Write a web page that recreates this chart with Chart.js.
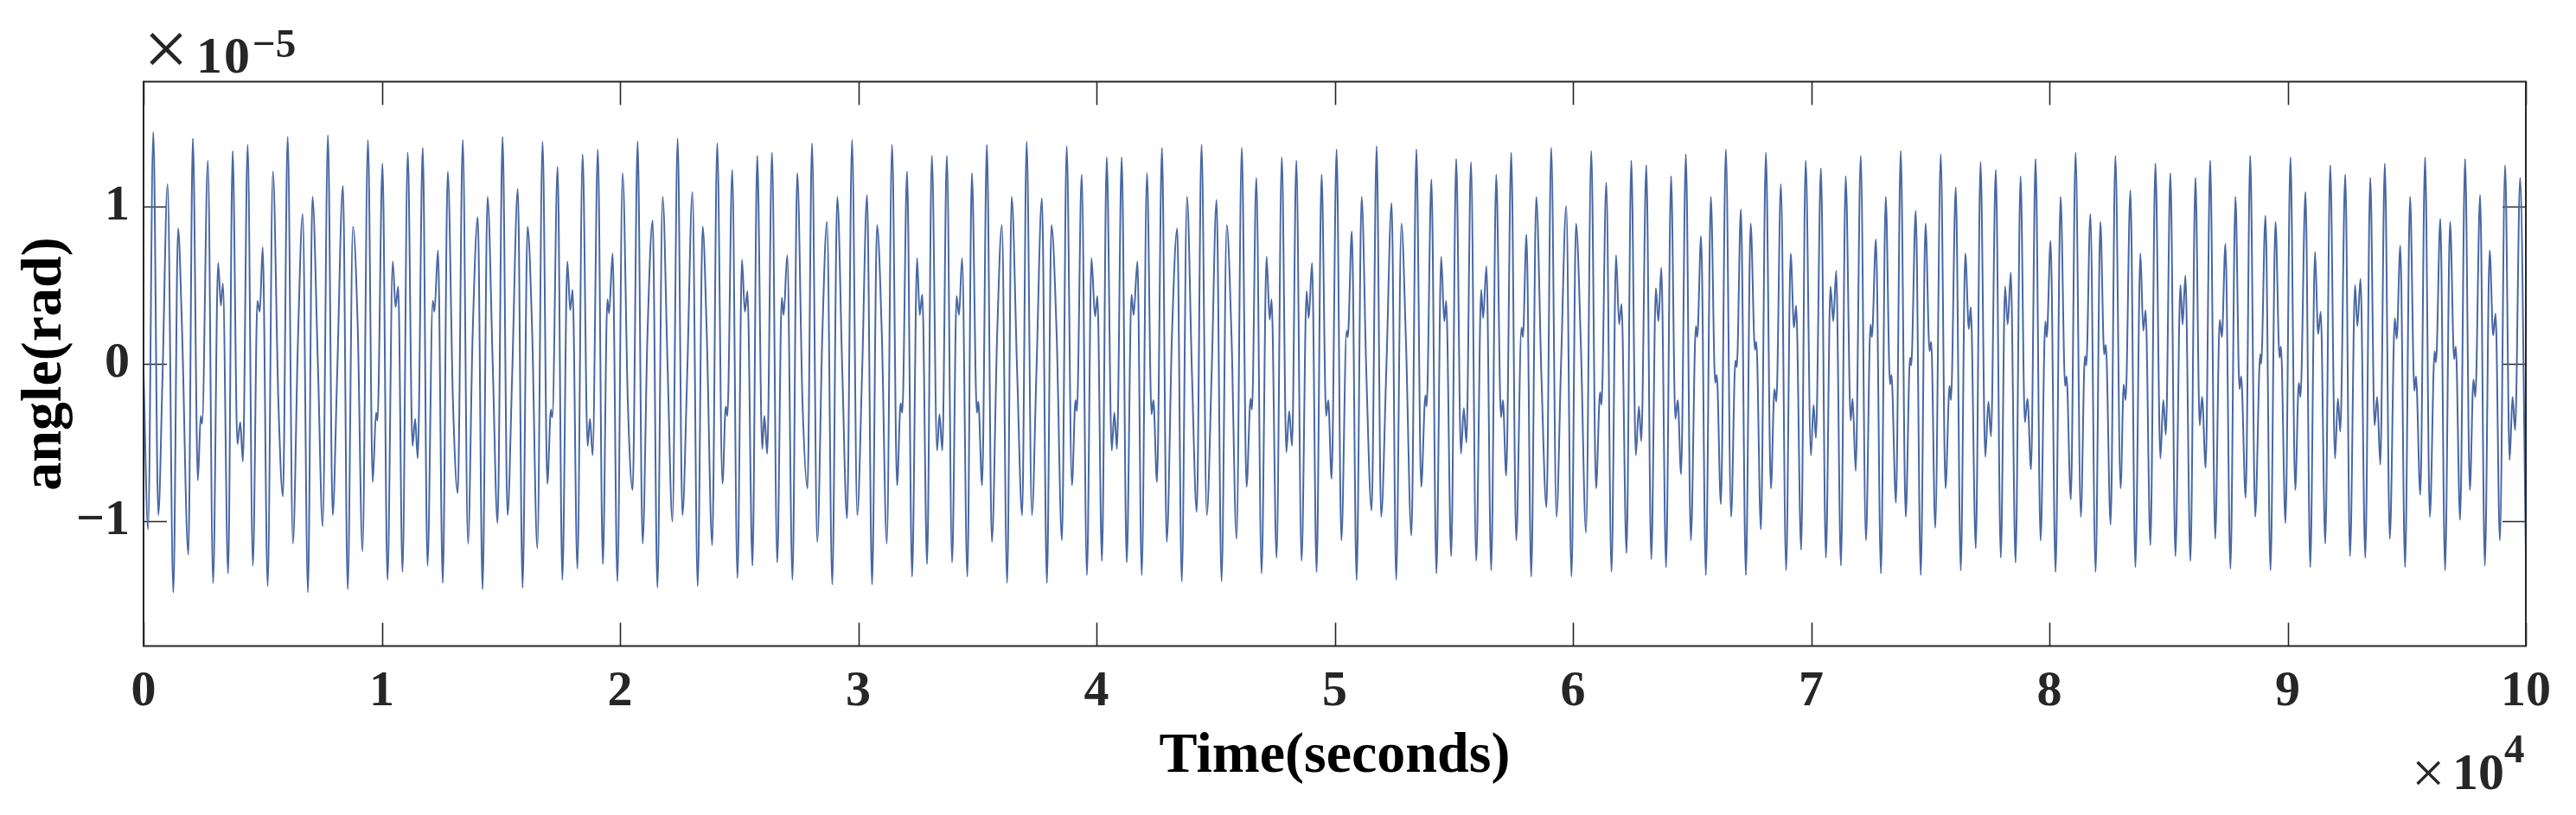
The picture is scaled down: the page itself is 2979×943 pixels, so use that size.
<!DOCTYPE html>
<html lang="en">
<head>
  <meta charset="UTF-8">
  <title>angle(rad) vs Time(seconds)</title>
  <style>
    * { box-sizing: border-box; margin: 0; padding: 0; }
    body {
      width: 2979px; height: 943px; overflow: hidden; background: #fff;
      position: relative; font-family: "Liberation Serif", "Times New Roman", serif;
    }
    #wrap { position: absolute; left: 0; top: 0; width: 2979px; height: 943px; }
    .mult { position: absolute; line-height: 1; white-space: nowrap; color: #262626; }
    .b { font-weight: bold; }
  </style>
</head>
<body>
  <div id="wrap"><canvas id="chart" width="2979" height="943"></canvas></div>

  <!-- axis multipliers -->
  <span class="mult" style="left:166px; top:10px; font-size:92px;">×</span>
  <span class="mult b" style="left:227px; top:34px; font-size:60px; letter-spacing:2px;">10</span>
  <span class="mult b" style="left:292px; top:27px; font-size:47px;">−5</span>

  <span class="mult" style="left:2789px; top:860px; font-size:68px;">×</span>
  <span class="mult b" style="left:2836px; top:863px; font-size:60px;">10</span>
  <span class="mult b" style="left:2896px; top:843px; font-size:47px;">4</span>

  <script src="https://cdn.jsdelivr.net/npm/chart.js"></script>
  <script>
    // time in units of 1e4 s, angle in units of 1e-5 rad
    const timeE4 = [
      0, 0.019, 0.041, 0.062, 0.079, 0.101, 0.125, 0.145, 0.161, 0.188, 0.207, 0.228, 0.240, 0.246, 0.270,
      0.292, 0.313, 0.325, 0.333, 0.355, 0.374, 0.394, 0.406, 0.417, 0.437, 0.459, 0.478, 0.488, 0.500, 0.521,
      0.543, 0.566, 0.585, 0.605, 0.627, 0.648, 0.668, 0.690, 0.709, 0.732, 0.752, 0.774, 0.794, 0.812, 0.837,
      0.857, 0.879, 0.899, 0.919, 0.942, 0.962, 0.976, 0.982, 1.003, 1.024, 1.046, 1.058, 1.069, 1.087, 1.109,
      1.129, 1.140, 1.151, 1.172, 1.192, 1.214, 1.221, 1.236, 1.256, 1.277, 1.299, 1.319, 1.340, 1.362, 1.381,
      1.403, 1.423, 1.444, 1.466, 1.486, 1.507, 1.528, 1.547, 1.571, 1.591, 1.612, 1.631,
      1.653, 1.675, 1.695, 1.710, 1.716, 1.738, 1.758, 1.779, 1.791, 1.801, 1.821, 1.843, 1.864, 1.874, 1.885,
      1.907, 1.928, 1.947, 1.954, 1.969, 1.989, 2.011, 2.033, 2.053, 2.074, 2.095, 2.115, 2.137, 2.157, 2.179,
      2.200, 2.220, 2.242, 2.262, 2.282, 2.304, 2.326, 2.347, 2.364, 2.387, 2.408, 2.430, 2.444, 2.451, 2.471,
      2.493, 2.512, 2.524, 2.535, 2.556, 2.576, 2.597, 2.606, 2.618, 2.638, 2.660, 2.679, 2.687, 2.702, 2.724,
      2.744, 2.766, 2.787, 2.806, 2.828, 2.849, 2.869, 2.891, 2.912, 2.933, 2.953, 2.974, 2.996, 3.016, 3.037,
      3.058, 3.079, 3.099, 3.120, 3.142, 3.163, 3.178, 3.185, 3.205, 3.226, 3.247, 3.258, 3.269, 3.289,
      3.309, 3.331, 3.341, 3.353, 3.372, 3.394, 3.413, 3.423, 3.436, 3.458, 3.477, 3.498, 3.504, 3.520, 3.540,
      3.561, 3.583, 3.603, 3.625, 3.644, 3.667, 3.688, 3.707, 3.729, 3.748, 3.771, 3.792, 3.811, 3.833, 3.855,
      3.875, 3.897, 3.912, 3.918, 3.938, 3.960, 3.979, 3.994, 4.004, 4.023, 4.043, 4.064, 4.075, 4.086, 4.106,
      4.127, 4.147, 4.156, 4.172, 4.190, 4.212, 4.231, 4.239, 4.254, 4.275, 4.295, 4.317, 4.339, 4.358, 4.380,
      4.401, 4.421, 4.441, 4.463, 4.484, 4.504, 4.525, 4.547, 4.567, 4.588, 4.610, 4.630, 4.647, 4.653, 4.671,
      4.693, 4.714, 4.727, 4.735, 4.756, 4.778, 4.797, 4.809, 4.821, 4.839, 4.861, 4.882, 4.891, 4.905, 4.924,
      4.945,
      4.964, 4.973, 4.987, 5.008, 5.028, 5.050, 5.055, 5.072, 5.092, 5.113, 5.133, 5.155, 5.176, 5.195, 5.217,
      5.239, 5.258, 5.280, 5.299, 5.322, 5.343, 5.363, 5.381, 5.386, 5.406, 5.427, 5.447, 5.460, 5.468, 5.489,
      5.510, 5.530, 5.542, 5.553, 5.572, 5.594, 5.615, 5.623, 5.637, 5.657, 5.678, 5.698, 5.706, 5.720, 5.741,
      5.762, 5.784, 5.790, 5.805, 5.825, 5.846, 5.868, 5.889, 5.909, 5.931, 5.950, 5.972, 5.994, 6.013, 6.033,
      6.055, 6.077, 6.097, 6.114, 6.120, 6.140, 6.162, 6.181, 6.194, 6.204, 6.225, 6.245, 6.264, 6.277, 6.287,
      6.308, 6.329, 6.348, 6.359, 6.371, 6.391, 6.412, 6.430, 6.440, 6.454, 6.474, 6.495, 6.516, 6.522, 6.538,
      6.558, 6.579,
      6.597, 6.604, 6.621, 6.642, 6.664, 6.682, 6.688, 6.705, 6.726, 6.746, 6.764, 6.770, 6.789, 6.810, 6.831,
      6.846, 6.854, 6.873, 6.895, 6.914, 6.928, 6.937, 6.958, 6.977, 6.999, 7.010, 7.020, 7.041, 7.062, 7.081,
      7.093, 7.105, 7.125, 7.145, 7.166, 7.174, 7.187, 7.208, 7.230, 7.249, 7.255, 7.272, 7.293, 7.313, 7.331,
      7.337, 7.356, 7.376, 7.397, 7.415, 7.420, 7.439, 7.460, 7.480, 7.497, 7.504, 7.521, 7.544, 7.564, 7.581,
      7.587, 7.607, 7.628, 7.647, 7.662, 7.670, 7.691, 7.711, 7.731, 7.744, 7.755, 7.775, 7.796, 7.814, 7.825,
      7.838, 7.858, 7.879, 7.897, 7.908, 7.923, 7.942, 7.963, 7.983, 7.989, 8.005, 8.026, 8.047, 8.066, 8.072,
      8.090, 8.110, 8.132, 8.149, 8.155, 8.172, 8.194, 8.214, 8.230, 8.237,
      8.257, 8.277, 8.299, 8.312, 8.320, 8.340, 8.361, 8.382, 8.394, 8.404, 8.424, 8.445, 8.466, 8.478, 8.489,
      8.508, 8.529, 8.550, 8.559, 8.571, 8.592, 8.613, 8.631, 8.641, 8.656, 8.675, 8.696, 8.715, 8.724, 8.739,
      8.760, 8.781, 8.798, 8.805, 8.824, 8.843, 8.864, 8.885, 8.889, 8.907, 8.928, 8.949, 8.966, 8.972, 8.991,
      9.012, 9.032, 9.047, 9.054, 9.075, 9.095, 9.115, 9.128, 9.139, 9.158, 9.179, 9.199, 9.211, 9.221, 9.242,
      9.262, 9.283, 9.293, 9.306, 9.326, 9.347, 9.365, 9.376, 9.389, 9.408, 9.429, 9.450, 9.458, 9.473, 9.493,
      9.514, 9.532, 9.539, 9.557, 9.577, 9.597, 9.617, 9.623, 9.641, 9.661, 9.682, 9.699, 9.706, 9.724, 9.745,
      9.765, 9.780, 9.788, 9.808, 9.828, 9.848, 9.863, 9.873, 9.891, 9.913, 9.932, 9.944, 9.955, 9.976, 10.0
    ];
    const angleE5 = [
      -0.05, -1.05, 1.47, -0.96, -0.12, 1.14, -1.45, 0.86, 0.25, -1.21, 1.43, -0.74, -0.33, -0.38, 1.29,
      -1.39, 0.64, 0.37, 0.51, -1.33, 1.35, -0.51, -0.37, -0.62, 1.39, -1.28, 0.40, 0.33, 0.74, -1.41,
      1.22, -0.24, -0.84, 1.44, -1.14, 0.14, 0.95, -1.45, 1.06, -0.01, -1.03, 1.45, -0.96, -0.11, 1.13,
      -1.43, 0.87, 0.24, -1.19, 1.42, -0.75, -0.31, -0.36, 1.27, -1.37, 0.65, 0.36, 0.49, -1.32, 1.34,
      -0.52, -0.35, -0.60, 1.37, -1.28, 0.40, 0.33, 0.72, -1.39, 1.22, -0.25, -0.82, 1.42, -1.14, 0.16,
      0.93, -1.43, 1.06, -0.02, -1.01, 1.44, -0.96, -0.09, 1.11, -1.42, 0.87, 0.22,
      -1.17, 1.41, -0.76, -0.29, -0.34, 1.25, -1.37, 0.65, 0.34, 0.47, -1.30, 1.33, -0.52, -0.35, -0.58,
      1.36, -1.27, 0.41, 0.32, 0.70, -1.38, 1.21, -0.25, -0.80, 1.41, -1.14, 0.17, 0.91, -1.42, 1.06,
      -0.03, -1.00, 1.43, -0.96, -0.07, 1.09, -1.41, 0.87, 0.20, -1.15, 1.40, -0.76, -0.27, -0.33, 1.23,
      -1.36, 0.66, 0.33, 0.46, -1.28, 1.32, -0.54, -0.33, -0.57, 1.34, -1.26, 0.42, 0.31, 0.69, -1.37,
      1.21, -0.24, -0.79, 1.40, -1.13, 0.17, 0.90, -1.40, 1.06, -0.04, -0.98, 1.42, -0.96, -0.07, 1.07,
      -1.40, 0.88, 0.19, -1.14, 1.39, -0.77, -0.25, -0.31, 1.22, -1.35, 0.67, 0.31, 0.44, -1.27,
      1.32, -0.55, -0.32, -0.55, 1.32, -1.26, 0.43, 0.31, 0.67, -1.35, 1.21, -0.31, -0.24, -0.77, 1.39,
      -1.13, 0.18, 0.88, -1.39, 1.06, -0.05, -0.96, 1.41, -0.96, -0.05, 1.05, -1.39, 0.88, 0.18, -1.12,
      1.38, -0.77, -0.23, -0.30, 1.20, -1.34, 0.67, 0.30, 0.43, -1.25, 1.31, -0.55, -0.31, -0.54, 1.31,
      -1.26, 0.44, 0.31, 0.65, -1.34, 1.21, -0.32, -0.23, -0.75, 1.37, -1.13, 0.19, 0.86, -1.38, 1.06,
      -0.07, -0.94, 1.39, -0.96, -0.03, 1.04, -1.38, 0.88, 0.17, -1.11, 1.37, -0.78, -0.22, -0.29, 1.18,
      -1.33, 0.68, 0.28, 0.41, -1.23, 1.31, -0.56, -0.30, -0.52, 1.29, -1.25, 0.46, 0.29, 0.64, -1.32,
      1.20,
      -0.33, -0.23, -0.73, 1.36, -1.12, 0.21, 0.17, 0.84, -1.37, 1.06, -0.07, -0.93, 1.38, -0.97, -0.02,
      1.02, -1.37, 0.89, 0.15, -1.09, 1.36, -0.78, -0.20, -0.27, 1.17, -1.33, 0.68, 0.27, 0.40, -1.22,
      1.30, -0.57, -0.28, -0.50, 1.28, -1.25, 0.47, 0.29, 0.62, -1.31, 1.20, -0.34, -0.23, -0.71, 1.34,
      -1.12, 0.23, 0.17, 0.82, -1.35, 1.06, -0.09, -0.91, 1.37, -0.97, -0.01, 1.00, -1.35, 0.89, 0.14,
      -1.07, 1.35, -0.79, -0.18, -0.26, 1.15, -1.32, 0.69, 0.25, 0.38, -1.20, 1.29, -0.58, -0.27, -0.49,
      1.26, -1.24, 0.48, 0.27, 0.61, -1.29, 1.19, -0.35, -0.23, -0.70, 1.33, -1.12, 0.24, 0.17, 0.81,
      -1.34, 1.06,
      -0.12, -0.07, -0.89, 1.36, -0.97, 0.02, -0.02, 0.98, -1.34, 0.89, 0.09, 0.14, -1.05, 1.34, -0.79,
      -0.16, -0.24, 1.14, -1.31, 0.70, 0.23, 0.37, -1.18, 1.29, -0.58, -0.26, -0.47, 1.24, -1.23, 0.49,
      0.27, 0.59, -1.28, 1.19, -0.36, -0.22, -0.68, 1.32, -1.12, 0.25, 0.17, 0.79, -1.33, 1.06, -0.13,
      -0.07, -0.88, 1.35, -0.97, 0.04, -0.01, 0.97, -1.34, 0.89, 0.08, 0.14, -1.04, 1.33, -0.79, -0.14,
      -0.23, 1.12, -1.31, 0.70, 0.22, 0.36, -1.17, 1.28, -0.59, -0.24, -0.46, 1.23, -1.23, 0.49, 0.25,
      0.58, -1.26, 1.19, -0.37, -0.22, -0.67, 1.30, -1.12, 0.27, 0.17, 0.78, -1.32, 1.06, -0.14, -0.08,
      -0.86, 1.34, -0.97, 0.05, -0.01, 0.95, -1.32, 0.90, 0.06, 0.12,
      -1.02, 1.32, -0.79, -0.13, -0.23, 1.10, -1.29, 0.70, 0.21, 0.34, -1.15, 1.27, -0.60, -0.23, -0.45,
      1.21, -1.22, 0.50, 0.25, 0.56, -1.25, 1.18, -0.39, -0.21, -0.66, 1.29, -1.11, 0.28, 0.17, 0.76,
      -1.30, 1.06, -0.16, -0.08, -0.85, 1.32, -0.97, 0.06, 0.00, 0.94, -1.31, 0.90, 0.04, 0.11, -1.01,
      1.31, -0.80, -0.12, -0.21, 1.09, -1.29, 0.71, 0.19, 0.33, -1.14, 1.26, -0.60, -0.22, -0.43, 1.20,
      -1.22, 0.50, 0.24, 0.54, -1.23, 1.18, -0.39, -0.21, -0.64, 1.27, -1.11, 0.29, 0.16, 0.75, -1.29,
      1.06, -0.17, -0.08, -0.83, 1.31, -0.97, 0.08, 0.01, 0.92, -1.31, 0.90, 0.03, 0.11, -0.99, 1.30,
      -0.80, -0.10, -0.21, 1.07, -1.28, 0.72, 0.18, 0.32, -1.12, 1.26, -0.61, -0.21, -0.42, 1.18, -1.20
    ];
    const xTicks = [0, 1, 2, 3, 4, 5, 6, 7, 8, 9, 10];
    const yTicks = [-1, 0, 1];
    const yRange = [-1.79, 1.79];

    if (timeE4.length !== angleE5.length) console.warn('length mismatch', timeE4.length, angleE5.length);

    const lineColor = '#4867a3';
    const axisColor = '#262626';
    const serif = '"Liberation Serif", "Times New Roman", serif';
    const tickLen = 27;

    // MATLAB style box + inward ticks on all four sides
    const axesBox = {
      id: 'axesBox',
      beforeDatasetsDraw(chart) {
        const { ctx, chartArea: a, scales: { x, y } } = chart;
        ctx.save();
        ctx.strokeStyle = axisColor;
        ctx.lineWidth = 1.6;
        ctx.beginPath();
        xTicks.forEach(v => {
          const px = Math.round(x.getPixelForValue(v)) + 0.5;
          ctx.moveTo(px, a.bottom); ctx.lineTo(px, a.bottom - tickLen);
          ctx.moveTo(px, a.top); ctx.lineTo(px, a.top + tickLen);
        });
        yTicks.forEach(v => {
          const py = Math.round(y.getPixelForValue(v)) + 0.5;
          ctx.moveTo(a.left, py); ctx.lineTo(a.left + tickLen, py);
          ctx.moveTo(a.right, py); ctx.lineTo(a.right - tickLen, py);
        });
        ctx.stroke();
        ctx.restore();
      },
      afterDatasetsDraw(chart) {
        const { ctx, chartArea: a } = chart;
        ctx.save();
        ctx.strokeStyle = axisColor;
        ctx.lineWidth = 2;
        ctx.strokeRect(a.left, a.top, a.right - a.left, a.bottom - a.top);
        ctx.restore();
      }
    };

    new Chart(document.getElementById('chart').getContext('2d'), {
      type: 'line',
      data: {
        datasets: [{
          data: timeE4.map((t, i) => ({ x: t, y: angleE5[i] })),
          borderColor: lineColor,
          borderWidth: 2,
          pointRadius: 0,
          fill: false,
          cubicInterpolationMode: 'monotone'
        }]
      },
      options: {
        responsive: false,
        animation: false,
        devicePixelRatio: 1,
        layout: { padding: { top: 94.5, right: 58, bottom: 0, left: 0 } },
        plugins: { legend: { display: false }, tooltip: { enabled: false } },
        scales: {
          x: {
            type: 'linear',
            min: 0, max: 10,
            afterBuildTicks: s => { s.ticks = xTicks.map(v => ({ value: v })); },
            afterFit: s => { s.height = 195.5; },
            grid: { display: false, drawTicks: false },
            border: { display: false },
            ticks: {
              color: axisColor, padding: 19, maxRotation: 0, autoSkip: false,
              font: { family: serif, size: 58, weight: 'bold' },
              callback: v => String(v)
            },
            title: {
              display: true, text: 'Time(seconds)', color: '#000',
              font: { family: serif, size: 66, weight: 'bold' },
              padding: { top: 0, bottom: 27 }
            }
          },
          y: {
            min: yRange[0], max: yRange[1],
            afterBuildTicks: s => { s.ticks = yTicks.map(v => ({ value: v })); },
            afterFit: s => { s.width = 166; },
            grid: { display: false, drawTicks: false },
            border: { display: false },
            ticks: {
              color: axisColor, padding: 16,
              font: { family: serif, size: 58, weight: 'bold' },
              callback: v => (v < 0 ? '\u2212' + Math.abs(v) : String(v))
            },
            title: {
              display: true, text: 'angle(rad)', color: '#000',
              font: { family: serif, size: 66, weight: 'bold' },
              padding: { top: 13, bottom: 0 }
            }
          }
        }
      },
      plugins: [axesBox]
    });
  </script>
</body>
</html>
